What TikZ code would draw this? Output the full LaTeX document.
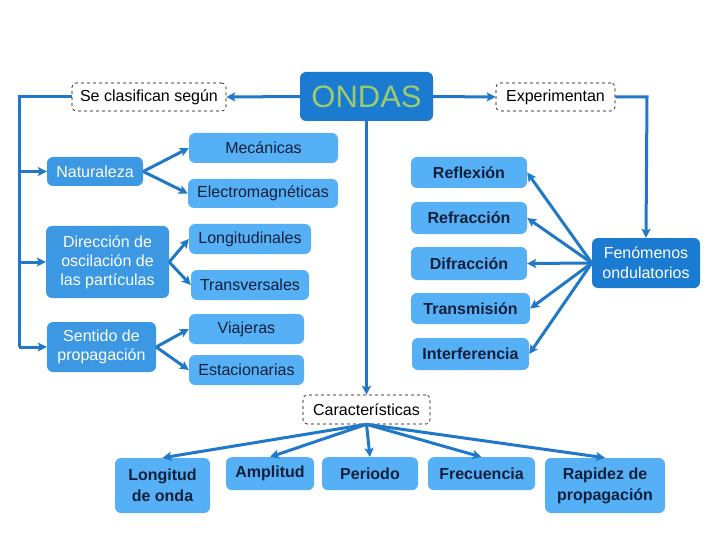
\documentclass[tikz,border=0pt]{standalone}
\usepackage{fontspec}
\setmainfont{Liberation Sans}
\usetikzlibrary{arrows.meta}
\definecolor{lightb}{HTML}{56B0F6}
\definecolor{medb}{HTML}{3C98E2}
\definecolor{darkb}{HTML}{1A7BD0}
\definecolor{conn}{HTML}{1F78C8}
\definecolor{tdark}{HTML}{10203A}
\definecolor{ondasg}{HTML}{9ACB6E}
\tikzset{
  bx/.style={rounded corners=6pt, inner sep=0pt, align=center, font=\fontsize{16}{19}\selectfont},
  lightbox/.style={bx, fill=lightb, text=tdark},
  boldbox/.style={bx, fill=lightb, text=tdark, font=\fontsize{16}{21}\selectfont\bfseries},
  medbox/.style={bx, fill=medb, text=white},
  darkbox/.style={bx, fill=darkb, text=white, font=\fontsize{16}{20}\selectfont},
  dashbox/.style={bx, draw=black, dashed, fill=white, text=black, rounded corners=4pt, line width=0.6pt},
  ln/.style={draw=conn, line width=3pt},
  arr/.style={ln, -{Stealth[length=9pt,width=9pt,inset=2pt]}},
}
\begin{document}
\begin{tikzpicture}[x=1pt,y=-1pt]
\useasboundingbox (0,0) rectangle (720,540);
% top row
\node[bx, fill=darkb, text=ondasg, font=\fontsize{31}{31}\selectfont, minimum width=133pt, minimum height=49pt] (ondas) at (366.5,96.5) {ONDAS};
\node[dashbox, minimum width=154pt, minimum height=28pt] (clas) at (149,97) {Se clasifican según};
\node[dashbox, minimum width=119pt, minimum height=28pt] (exp) at (555.5,97) {Experimentan};
% left classification
\node[medbox, minimum width=96pt, minimum height=29pt] (nat) at (95,171.5) {Naturaleza};
\node[lightbox, minimum width=149pt, minimum height=30pt] (mec) at (263.5,148) {Mecánicas};
\node[lightbox, minimum width=150pt, minimum height=29pt] (elec) at (263,193.5) {Electromagnéticas};
\node[medbox, minimum width=123pt, minimum height=72pt] (dir) at (107.5,262) {Dirección de\\oscilación de\\las partículas};
\node[lightbox, minimum width=122pt, minimum height=30pt] (long) at (250,239) {Longitudinales};
\node[lightbox, minimum width=118pt, minimum height=30pt] (trans) at (250,285) {Transversales};
\node[medbox, minimum width=109pt, minimum height=50pt] (sent) at (101.5,347) {Sentido de\\propagación};
\node[lightbox, minimum width=115pt, minimum height=30pt] (viaj) at (246.5,329) {Viajeras};
\node[lightbox, minimum width=115pt, minimum height=30pt] (est) at (246.5,370) {Estacionarias};
% phenomena
\node[boldbox, minimum width=116pt, minimum height=31pt] (refl) at (469,172.5) {Reflexión};
\node[boldbox, minimum width=116pt, minimum height=32pt] (refr) at (469,218) {Refracción};
\node[boldbox, minimum width=116pt, minimum height=33pt] (difr) at (469,263.5) {Difracción};
\node[boldbox, minimum width=119pt, minimum height=31pt] (transm) at (470.5,308.5) {Transmisión};
\node[boldbox, minimum width=117pt, minimum height=32pt] (interf) at (470.5,354) {Interferencia};
\node[darkbox, minimum width=108pt, minimum height=50pt] (fen) at (646,263) {Fenómenos\\ondulatorios};
% characteristics
\node[dashbox, minimum width=127pt, minimum height=29pt] (car) at (366.5,409.5) {Características};
\node[boldbox, minimum width=95pt, minimum height=55pt] (lo) at (162.5,485.5) {Longitud\\de onda};
\node[boldbox, minimum width=88pt, minimum height=33pt, anchor=north] (amp) at (270,457) {Amplitud};
\node[boldbox, minimum width=96pt, minimum height=33pt, anchor=north] (per) at (370,457) {Periodo};
\node[boldbox, minimum width=107pt, minimum height=33pt, anchor=north] (frec) at (481.5,457) {Frecuencia};
\node[boldbox, minimum width=120pt, minimum height=55pt] (rap) at (605,485.5) {Rapidez de\\propagación};
% connectors
\coordinate (lt) at (19,97);
\coordinate (lb) at (19,347);
\coordinate (rt) at (647,97);
\draw[arr] (ondas.west) -- (clas.east);
\draw[arr] (ondas.east) -- (exp.west);
\draw[ln, line join=miter] (clas.west) -- (lt) -- (lb);
\draw[arr] (lt |- nat.west) -- (nat.west);
\draw[arr] (lt |- dir.west) -- (dir.west);
\draw[arr] (lb) -- (sent.west);
\draw[arr] (exp.east) -- (rt) -- (fen.north);
\draw[arr] (ondas.south) -- (car.north);
\draw[arr] (nat.east) -- (mec.west);
\draw[arr] (nat.east) -- (elec.west);
\draw[arr] (dir.east) -- (long.west);
\draw[arr] (dir.east) -- (trans.west);
\draw[arr] (sent.east) -- (viaj.west);
\draw[arr] (sent.east) -- (est.west);
\foreach \t in {refl,refr,difr,transm,interf} \draw[arr] (fen.west) -- (\t.east);
\foreach \t in {lo,amp,per,frec,rap} \draw[arr] (car.south) -- (\t.north);
\end{tikzpicture}
\end{document}
